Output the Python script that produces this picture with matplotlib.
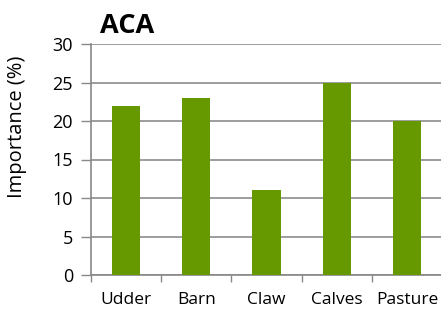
import numpy as np
import matplotlib.pyplot as plt

categories = ['Udder', 'Barn', 'Claw', 'Calves', 'Pasture']
importance = [22, 23, 11, 25, 20]
yticks = [0, 5, 10, 15, 20, 25, 30]

plt.rcParams['font.family'] = ['Open Sans', 'DejaVu Sans']

fig = plt.figure(figsize=(4.41, 3.10), dpi=100)
ax = fig.add_axes([91 / 441, 1 - 275 / 310, 351 / 441, 231 / 310])

x = np.arange(len(categories))
ax.bar(x, importance, width=0.4, color='#669900', zorder=3)

ax.set_xlim(-0.5, len(categories) - 0.5)
ax.set_ylim(0, 30)
ax.set_yticks(yticks)
ax.set_xticks(np.arange(len(categories) + 1) - 0.5, minor=False)
ax.set_xticklabels([])
ax.set_xticks(x, minor=True)
ax.set_xticklabels(categories, minor=True, fontsize=12.5)
ax.tick_params(axis='x', which='minor', length=0, pad=12)
ax.tick_params(axis='x', which='major', length=5, color='#888888', width=1)
ax.tick_params(axis='y', length=7, color='#888888', width=1, labelsize=13, pad=6)

ax.grid(axis='y', color='#8c8c8c', linewidth=1.2, zorder=0)
for s in ['top', 'right']:
    ax.spines[s].set_visible(False)
for s in ['left', 'bottom']:
    ax.spines[s].set_color('#888888')
    ax.spines[s].set_linewidth(1.2)

fig.text(17 / 441, 1 - 127 / 310, 'Importance (%)', fontsize=14.5,
         rotation=90, ha='center', va='center')
fig.text(100 / 441, 1 - 26 / 310, 'ACA', fontsize=19.5, fontweight='bold',
         va='center', ha='left')

fig.savefig('out.png', dpi=100)
